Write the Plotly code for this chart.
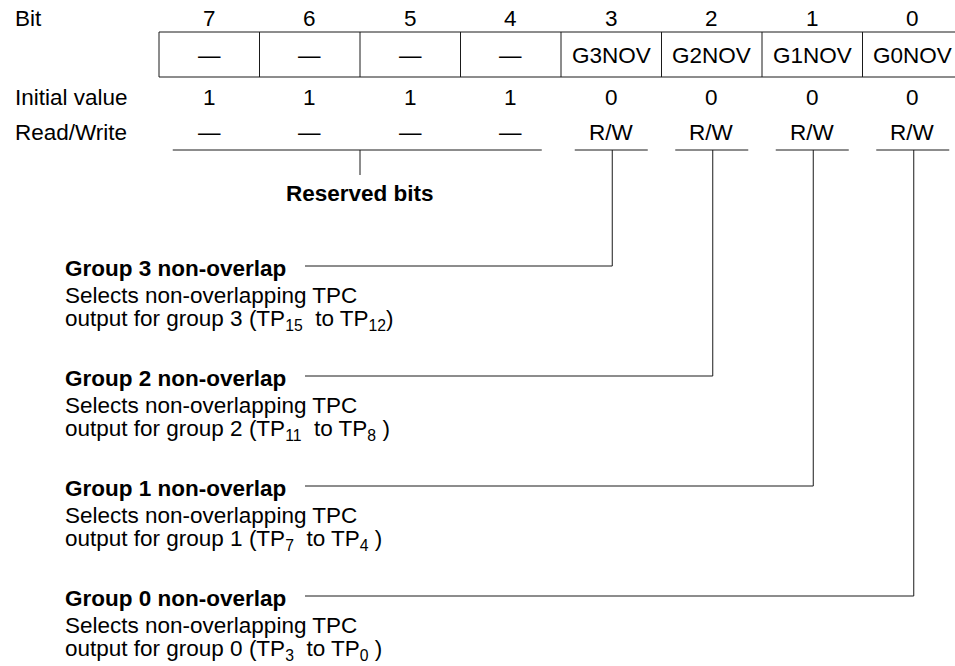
import plotly.graph_objects as go

# ---- data ----
bits = [7, 6, 5, 4, 3, 2, 1, 0]
bit_names = ["—", "—", "—", "—", "G3NOV", "G2NOV", "G1NOV", "G0NOV"]
initial_values = ["1", "1", "1", "1", "0", "0", "0", "0"]
read_write = ["—", "—", "—", "—", "R/W", "R/W", "R/W", "R/W"]
row_labels = ["Bit", "Initial value", "Read/Write"]
reserved_label = "Reserved bits"
group_bits = [3, 2, 1, 0]
group_titles = ["Group 3 non-overlap", "Group 2 non-overlap",
                "Group 1 non-overlap", "Group 0 non-overlap"]
group_line2 = ["Selects non-overlapping TPC"] * 4
group_line3 = [
    "output for group 3 (TP<sub>15</sub>&nbsp; to TP<sub>12</sub>)",
    "output for group 2 (TP<sub>11</sub>&nbsp; to TP<sub>8</sub>&nbsp;)",
    "output for group 1 (TP<sub>7</sub>&nbsp; to TP<sub>4</sub>&nbsp;)",
    "output for group 0 (TP<sub>3</sub>&nbsp; to TP<sub>0</sub>&nbsp;)",
]

# ---- layout constants ----
W, H = 955, 666
FONT = "Liberation Sans, Arial, sans-serif"
FS = 22.5
LC = "#1a1a1a"
x0 = 159.0
cw = 100.5
y_bit, y_box_top, y_box_bot = 18, 32, 77
y_name = 55
y_init, y_rw, y_ul = 97, 132, 150
label_x = 13
text_x = 63
group_y0, group_dy = 268, 110
hline_x0 = 305

def cx(i):
    return x0 + cw * (i + 0.5)

fig = go.Figure()
shapes = []
ann = []

def line(xa, ya, xb, yb):
    shapes.append(dict(type="line", x0=xa, y0=ya, x1=xb, y1=yb, xref="x", yref="y",
                       line=dict(color=LC, width=1)))

def text(x, y, s, xanchor="center", bold=False):
    ann.append(dict(x=x, y=y, xref="x", yref="y", text=f"<b>{s}</b>" if bold else s,
                    showarrow=False, xanchor=xanchor, yanchor="middle",
                    font=dict(family=FONT, size=FS, color="#000")))

# row labels
for lab, y in zip(row_labels, [y_bit, y_init, y_rw]):
    text(label_x, y, lab, xanchor="left")

# register box
n = len(bits)
line(x0, y_box_top, x0 + cw * n, y_box_top)
line(x0, y_box_bot, x0 + cw * n, y_box_bot)
for i in range(n + 1):
    line(x0 + cw * i, y_box_top, x0 + cw * i, y_box_bot)

for i, b in enumerate(bits):
    text(cx(i), y_bit, str(b))
    text(cx(i), y_name, bit_names[i])
    text(cx(i), y_init, initial_values[i])
    text(cx(i), y_rw, read_write[i])

# reserved bits underline
res_idx = [i for i, nme in enumerate(bit_names) if nme == "—"]
half = 36.5
rx0 = cx(res_idx[0]) - half
rx1 = cx(res_idx[-1]) + 31
line(rx0, y_ul, rx1, y_ul)
rmid = (x0 + cw * res_idx[0] + x0 + cw * (res_idx[-1] + 1)) / 2
line(rmid, y_ul, rmid, 175)
text(rmid, 193, reserved_label, bold=True)

# groups
for k, gb in enumerate(group_bits):
    i = bits.index(gb)
    xc = cx(i) + 1
    line(cx(i) - half, y_ul, cx(i) + half, y_ul)
    gy = group_y0 + group_dy * k
    ly = gy - 2
    line(xc, y_ul, xc, ly)
    line(hline_x0, ly, xc, ly)
    text(text_x, gy, group_titles[k], xanchor="left", bold=True)
    text(text_x, gy + 27, group_line2[k], xanchor="left")
    text(text_x, gy + 52, group_line3[k], xanchor="left")

fig.update_layout(
    width=W, height=H, margin=dict(l=0, r=0, t=0, b=0),
    paper_bgcolor="white", plot_bgcolor="white",
    xaxis=dict(range=[0, W], visible=False, fixedrange=True),
    yaxis=dict(range=[H, 0], visible=False, fixedrange=True),
    shapes=shapes, annotations=ann, showlegend=False,
)
fig.write_html("out.html", config={"displayModeBar": False},
               post_script="document.body.style.margin='0';document.body.style.overflow='hidden';")
